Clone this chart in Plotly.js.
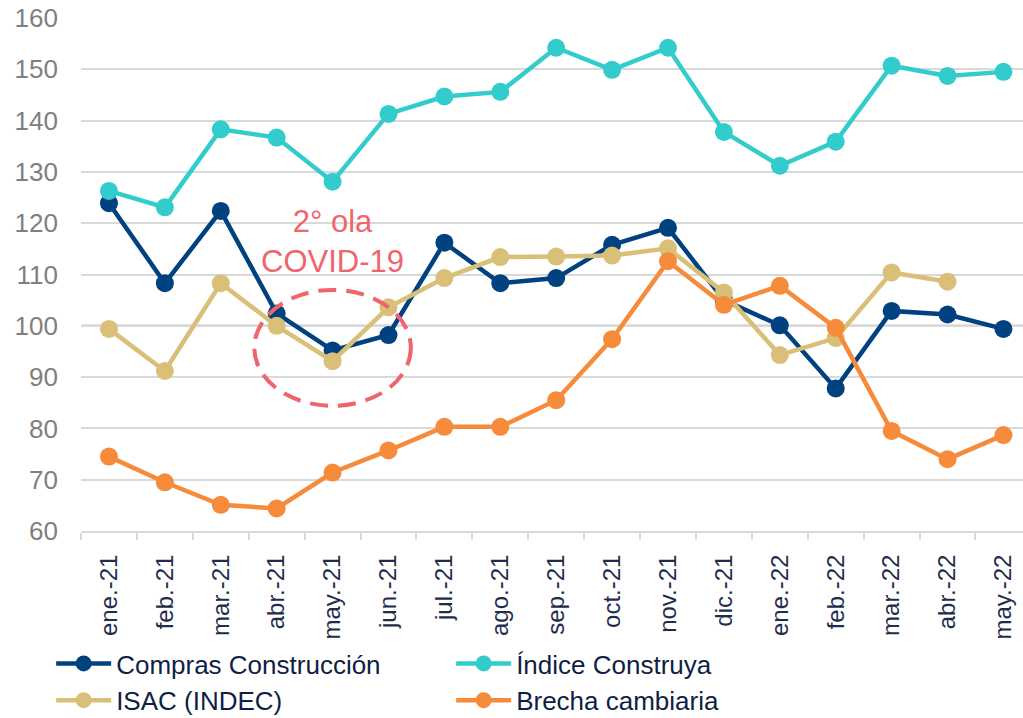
<!DOCTYPE html>
<html>
<head>
<meta charset="utf-8">
<script src="https://cdn.plot.ly/plotly-3.0.1.min.js"></script>
<style>html,body{margin:0;padding:0;background:#fff}#chart{width:1023px;height:718px}</style>
</head>
<body>
<div id="chart"></div>
<script>
const months = ["ene.-21","feb.-21","mar.-21","abr.-21","may.-21","jun.-21","jul.-21","ago.-21","sep.-21","oct.-21","nov.-21","dic.-21","ene.-22","feb.-22","mar.-22","abr.-22","may.-22"];
const comprasConstruccion = [123.9,108.3,122.4,102.4,95.2,98.2,116.2,108.3,109.3,115.8,119.1,105.0,100.1,87.8,102.9,102.2,99.4];
const indiceConstruya = [126.3,123.1,138.3,136.7,128.1,141.3,144.7,145.6,154.2,149.9,154.2,137.8,131.2,135.9,150.7,148.7,149.5];
const isacIndec = [99.4,91.2,108.3,100.0,93.1,103.6,109.3,113.4,113.5,113.7,115.1,106.5,94.3,97.6,110.4,108.6,null];
const brechaCambiaria = [74.5,69.5,65.1,64.4,71.4,75.7,80.3,80.3,85.5,97.4,112.6,104.1,107.8,99.6,79.5,74.0,78.7];
const seriesNames = ["Compras Construcción","Índice Construya","ISAC (INDEC)","Brecha cambiaria"];
const seriesColors = ["#00427f","#33cccc","#d9bf77","#f58b3b"];
const annotationText = "2° ola<br>COVID-19";

const FONT = "Arial, 'Liberation Sans', sans-serif";
const allSeries = [comprasConstruccion, indiceConstruya, isacIndec, brechaCambiaria];
const traces = allSeries.map((vals, i) => ({
  type: "scatter",
  mode: "lines+markers",
  name: seriesNames[i],
  x: months,
  y: vals,
  line: {color: seriesColors[i], width: 4.5},
  marker: {color: seriesColors[i], size: 18},
  connectgaps: false,
  hoverinfo: "skip"
}));

const layout = {
  width: 1023, height: 718,
  margin: {l: 81, r: 0, t: 18, b: 187},
  paper_bgcolor: "#ffffff", plot_bgcolor: "#ffffff",
  font: {family: FONT},
  showlegend: true,
  xaxis: {
    type: "category",
    range: [-0.5, 16.35],
    showgrid: false,
    showline: true, linecolor: "#d9d9d9", linewidth: 2,
    ticks: "outside", tickson: "boundaries", ticklen: 7, tickwidth: 2, tickcolor: "#d9d9d9",
    tickangle: -90,
    tickfont: {family: FONT, size: 24, color: "#1f2d4d"},
    ticklabelstandoff: 12,
    zeroline: false, fixedrange: true
  },
  yaxis: {
    range: [60, 160],
    tickvals: [60,70,80,90,100,110,120,130,140,150,160],
    showgrid: true, gridcolor: "#d9d9d9", gridwidth: 2,
    showline: false, zeroline: false,
    ticks: "",
    tickfont: {family: FONT, size: 26, color: "#7f7f7f"},
    ticklabelstandoff: 22,
    fixedrange: true
  },
  legend: {
    orientation: "h",
    xref: "container", yref: "container",
    x: 0.05, xanchor: "left",
    y: 1 - 640/718, yanchor: "top",
    entrywidth: 330, entrywidthmode: "pixels",
    itemwidth: 55,
    font: {family: FONT, size: 26, color: "#0e1f45"},
    bgcolor: "rgba(0,0,0,0)",
    traceorder: "normal"
  },
  shapes: [
    {type: "line", xref: "paper", yref: "y", x0: 0, x1: 1, y0: 100, y1: 100,
     line: {color: "#8a8a8a", width: 2}, layer: "below"},
    {type: "circle", xref: "x", yref: "y", x0: 2.6, x1: 5.4, y0: 84.4, y1: 107.0,
     line: {color: "#f0646b", width: 4, dash: "18px,10px"}, layer: "above"}
  ],
  annotations: [
    {xref: "x", yref: "y", x: 4, y: 116.5, text: annotationText, showarrow: false,
     font: {family: FONT, size: 31, color: "#f0646b"}, align: "center"}
  ]
};

Plotly.newPlot("chart", traces, layout, {staticPlot: true, displayModeBar: false});
</script>
</body>
</html>
